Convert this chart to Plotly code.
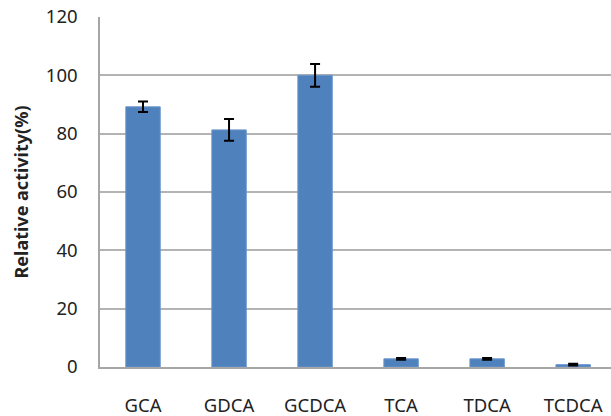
import plotly.graph_objects as go

categories = ["GCA", "GDCA", "GCDCA", "TCA", "TDCA", "TCDCA"]
values = [89.2, 81.3, 100.0, 2.8, 2.8, 0.8]
errors = [1.8, 3.7, 3.9, 0.3, 0.3, 0.3]
y_ticks = [0, 20, 40, 60, 80, 100, 120]

fig = go.Figure()
fig.add_trace(go.Bar(
    x=list(range(len(categories))),
    y=values,
    width=0.4,
    marker=dict(color="#4F81BD", line=dict(color="#6A96CC", width=1)),
    error_y=dict(type="data", array=errors, visible=True, color="black", thickness=2, width=5),
))

fig.update_layout(
    width=611, height=416,
    margin=dict(l=100, r=0, t=17, b=49),
    paper_bgcolor="white", plot_bgcolor="white",
    showlegend=False,
    font=dict(family="Noto Sans", size=18.5, color="#222222"),
    xaxis=dict(
        tickmode="array",
        tickvals=list(range(len(categories))),
        ticktext=categories,
        range=[-0.5, 5.44],
        showgrid=False,
        showline=True, linecolor="#A6A6A6", linewidth=1.5,
        ticks="", ticklabelstandoff=21,
        zeroline=False, automargin=False,
    ),
    yaxis=dict(
        range=[0, 120],
        tickvals=y_ticks,
        showgrid=True, gridcolor="#B3B3B3", gridwidth=1.5,
        showline=True, linecolor="#A6A6A6", linewidth=1.5,
        ticks="", ticklabelstandoff=17,
        zeroline=False, automargin=False,
        title=dict(text="<b>Relative activity(%)</b>", font=dict(size=18), standoff=12),
    ),
)

fig.write_html("out.html")
